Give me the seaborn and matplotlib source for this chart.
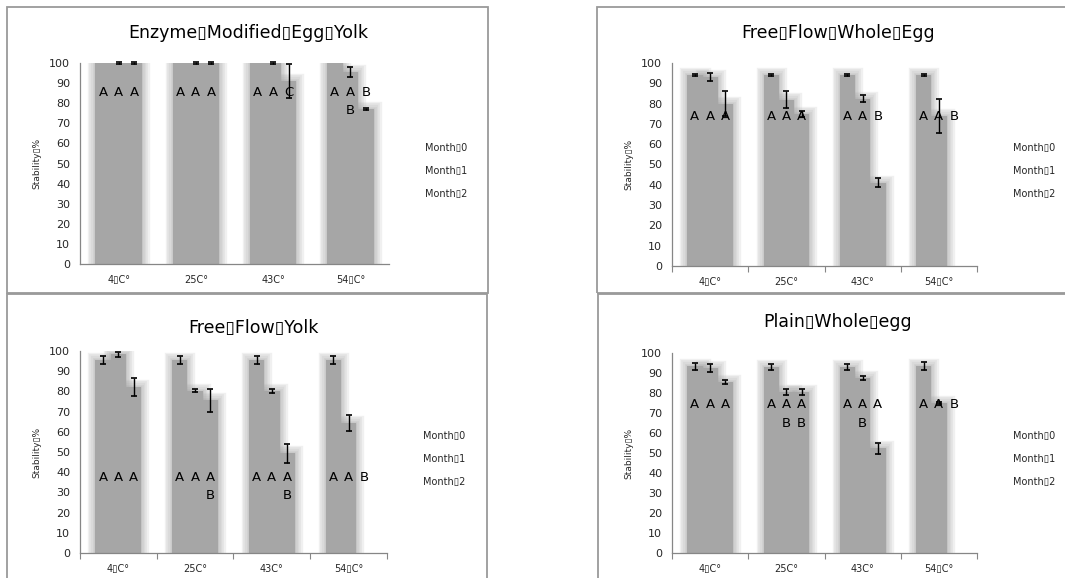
import numpy as np
import pandas as pd
import matplotlib
matplotlib.use("Agg")
import matplotlib.pyplot as plt
import matplotlib.patheffects as pe
from matplotlib.patches import Rectangle
import seaborn as sns

sns.set_theme(style="white")
plt.rcParams['font.family'] = ['DejaVu Sans']

BOX = "\u25af"
temps = ["4" + BOX + "C°", "25C°", "43C°", "54" + BOX + "C°"]
months = ["Month" + BOX + "0", "Month" + BOX + "1", "Month" + BOX + "2"]
nan = np.nan

# ---- Enzyme Modified Egg Yolk ----
emey_title = "Enzyme" + BOX + "Modified" + BOX + "Egg" + BOX + "Yolk"
emey_m0 = [100, 100, 100, 100]
emey_m1 = [100, 100, 100, 95.5]
emey_m2 = [100, 100, 91, 77]
emey_e0 = [nan, nan, nan, nan]
emey_e1 = [0.5, 0.5, 0.5, 2.5]
emey_e2 = [0.5, 0.5, 8.5, 0.5]
emey_top = [["A", "A", "A", "A"], ["A", "A", "A", "A"], ["A", "A", "C", "B"]]
emey_low = [["", "", "", ""], ["", "", "", "B"], ["", "", "", ""]]

# ---- Free Flow Whole Egg ----
ffwe_title = "Free" + BOX + "Flow" + BOX + "Whole" + BOX + "Egg"
ffwe_m0 = [94, 94, 94, 94]
ffwe_m1 = [93, 82, 82.5, 74]
ffwe_m2 = [80, 75, 41, 0]
ffwe_e0 = [0.5, 0.5, 0.5, 0.5]
ffwe_e1 = [2, 4, 1.5, 8.5]
ffwe_e2 = [6, 1.5, 2.2, nan]
ffwe_top = [["A", "A", "A", "A"], ["A", "A", "A", "A"], ["A", "A", "B", "B"]]
ffwe_low = [["", "", "", ""], ["", "", "", ""], ["", "", "", ""]]

# ---- Free Flow Yolk ----
ffy_title = "Free" + BOX + "Flow" + BOX + "Yolk"
ffy_m0 = [95.5, 95.5, 95.5, 95.5]
ffy_m1 = [98.4, 80.4, 80, 64.4]
ffy_m2 = [82.3, 75.5, 49.3, 0]
ffy_e0 = [2, 2, 2, 2]
ffy_e1 = [1.3, 0.8, 1, 3.9]
ffy_e2 = [4.5, 5.5, 4.5, nan]
ffy_top = [["A", "A", "A", "A"], ["A", "A", "A", "A"], ["A", "A", "A", "B"]]
ffy_low = [["", "", "", ""], ["", "", "", ""], ["", "B", "B", ""]]

# ---- Plain Whole egg ----
pwe_title = "Plain" + BOX + "Whole" + BOX + "egg"
pwe_m0 = [93.3, 93, 93, 93.5]
pwe_m1 = [92.5, 80.4, 87.6, 75]
pwe_m2 = [85.5, 80.4, 52.3, 0]
pwe_e0 = [1.8, 1.5, 1.7, 2.2]
pwe_e1 = [1.8, 1.4, 1.1, 0.5]
pwe_e2 = [1, 1.4, 2.8, nan]
pwe_top = [["A", "A", "A", "A"], ["A", "A", "A", "A"], ["A", "A", "A", "B"]]
pwe_low = [["", "", "", ""], ["", "B", "B", ""], ["", "B", "", ""]]

GRAY = "#a6a6a6"
W, H = 1065, 578

panels = [
    dict(title=emey_title, vals=[emey_m0, emey_m1, emey_m2], errs=[emey_e0, emey_e1, emey_e2],
         top=emey_top, low=emey_low, letter_y=85.5, xticks=False,
         ax=(80, 63, 389, 264), title_xy=(248, 33), leg_xy=(425, 143), box=(7, 7, 488, 293)),
    dict(title=ffwe_title, vals=[ffwe_m0, ffwe_m1, ffwe_m2], errs=[ffwe_e0, ffwe_e1, ffwe_e2],
         top=ffwe_top, low=ffwe_low, letter_y=73.5, xticks=True,
         ax=(672, 63, 977, 266), title_xy=(838, 33), leg_xy=(1013, 143), box=(597, 7, 1080, 293)),
    dict(title=ffy_title, vals=[ffy_m0, ffy_m1, ffy_m2], errs=[ffy_e0, ffy_e1, ffy_e2],
         top=ffy_top, low=ffy_low, letter_y=37.6, xticks=True,
         ax=(80, 351, 387, 553), title_xy=(253, 328), leg_xy=(423, 431), box=(7, 294, 487, 590)),
    dict(title=pwe_title, vals=[pwe_m0, pwe_m1, pwe_m2], errs=[pwe_e0, pwe_e1, pwe_e2],
         top=pwe_top, low=pwe_low, letter_y=74, xticks=True,
         ax=(672, 353, 977, 553), title_xy=(838, 322), leg_xy=(1013, 431), box=(598, 294, 1080, 590)),
]

fig = plt.figure(figsize=(W / 100, H / 100), dpi=100)
fig.patch.set_facecolor("white")

# soft edge: stacked faint strokes under the solid fill
blur = [pe.Stroke(linewidth=lw, foreground=GRAY, alpha=0.16) for lw in (11, 8.5, 6, 3.5, 1.5)]

for p in panels:
    x0, y0, x1, y1 = p["box"]
    fig.add_artist(Rectangle((x0 / W, 1 - y1 / H), (x1 - x0) / W, (y1 - y0) / H,
                             transform=fig.transFigure, fill=False,
                             edgecolor="#9a9a9a", linewidth=1.3))

    l, t, r, b = p["ax"]
    ax = fig.add_axes([l / W, 1 - b / H, (r - l) / W, (b - t) / H])

    rows = []
    for j, m in enumerate(months):
        for i, tc in enumerate(temps):
            rows.append({"temp": tc, "month": m, "stability": p["vals"][j][i]})
    df = pd.DataFrame(rows)

    # blurred halo layer
    sns.barplot(data=df, x="temp", y="stability", hue="month", order=temps, hue_order=months,
                palette=[GRAY] * 3, saturation=1, width=0.6, errorbar=None,
                linewidth=0, legend=False, ax=ax)
    n_halo = len(ax.patches)
    for bar in ax.patches:
        if bar.get_height() == 0:
            bar.set_visible(False)
        bar.set_path_effects(blur)
        bar.set_zorder(0.8)

    # solid fill layer
    sns.barplot(data=df, x="temp", y="stability", hue="month", order=temps, hue_order=months,
                palette=[GRAY] * 3, saturation=1, width=0.6, errorbar=None,
                linewidth=0, ax=ax)
    for bar in ax.patches[n_halo:]:
        if bar.get_height() == 0:
            bar.set_visible(False)

    bar_conts = list(ax.containers)[3:]
    for j, cont in enumerate(bar_conts):
        xs = [bar.get_x() + bar.get_width() / 2 for bar in cont]
        ax.errorbar(xs, p["vals"][j], yerr=p["errs"][j], fmt="none", ecolor="black",
                    elinewidth=1, capsize=2.5, capthick=1.2, clip_on=False, zorder=5)
        for i, bar in enumerate(cont):
            cx = bar.get_x() + bar.get_width() / 2
            ax.annotate(p["top"][j][i], (cx, p["letter_y"]), ha="center", va="center",
                        fontsize=9.5, color="black", zorder=6)
            if p["low"][j][i]:
                ax.annotate(p["low"][j][i], (cx, p["letter_y"]), xytext=(0, -13),
                            textcoords="offset points", ha="center", va="center",
                            fontsize=9.5, color="black", zorder=6)

    ax.set_ylim(0, 100)
    ax.set_yticks(np.arange(0, 101, 10))
    ax.set_xlim(-0.5, 3.5)
    ax.set_xlabel("")
    ax.set_ylabel("Stability" + BOX + "%", fontsize=6.5, labelpad=6)
    ax.tick_params(axis="y", labelsize=8, length=3, width=0.8, color="#868686", pad=4)
    ax.tick_params(axis="x", which="major", labelsize=7, length=0, pad=8)
    if p["xticks"]:
        ax.set_xticks(np.arange(-0.5, 4, 1), minor=True)
        ax.tick_params(axis="x", which="minor", length=4, width=0.8, color="#868686", bottom=True)
    for s in ["top", "right"]:
        ax.spines[s].set_visible(False)
    for s in ["left", "bottom"]:
        ax.spines[s].set_color("#868686")
        ax.spines[s].set_linewidth(0.9)
        ax.spines[s].set_zorder(3)
    ax.set_facecolor("white")
    ax.grid(False)

    leg = ax.legend(handlelength=0, handletextpad=0, frameon=False, fontsize=7,
                    labelspacing=1.35, borderpad=0, borderaxespad=0,
                    loc="upper left", bbox_to_anchor=(p["leg_xy"][0] / W, 1 - p["leg_xy"][1] / H),
                    bbox_transform=fig.transFigure)
    for h in leg.legend_handles:
        h.set_visible(False)

    fig.text(p["title_xy"][0] / W, 1 - p["title_xy"][1] / H, p["title"],
             ha="center", va="center", fontsize=12.5, color="black")

fig.savefig("out.png", dpi=100, facecolor="white")
